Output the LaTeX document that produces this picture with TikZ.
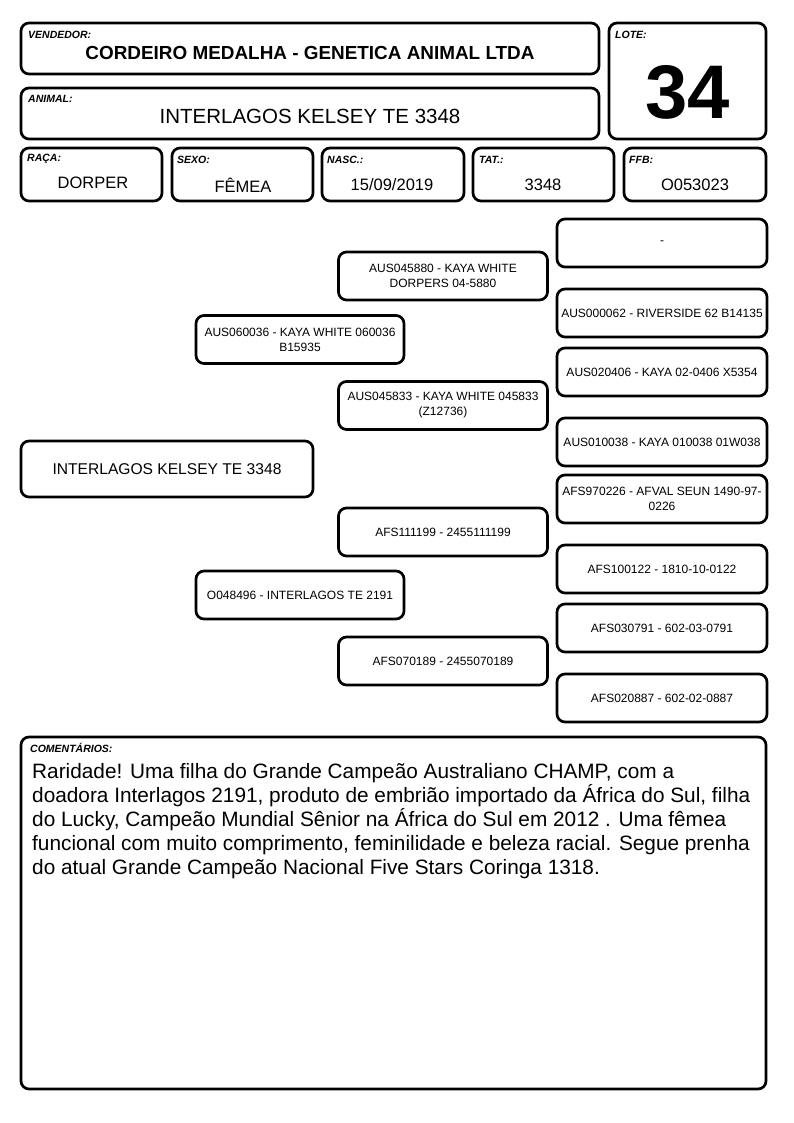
\documentclass[tikz,border=0pt]{standalone}
\usepackage{fontspec}
\setmainfont{Liberation Sans}
\begin{document}
\begin{tikzpicture}[x=1pt,y=-1pt,
  bx/.style={draw=black, line width=2.7pt, rounded corners=8pt, fill=white, inner sep=0pt},
  lbl/.style={anchor=west, inner sep=0pt, font=\fontsize{10.5}{12}\selectfont\bfseries\itshape},
  fval/.style={inner sep=0pt, font=\fontsize{16.5}{19}\selectfont},
  ped/.style={bx, align=center, font=\fontsize{12}{15}\selectfont},
  g3/.style={ped, minimum width=210, minimum height=48},
  g2/.style={ped, minimum width=209, minimum height=48},
  g1/.style={ped, minimum width=208, minimum height=48}]
\useasboundingbox[fill=white] (0,0) rectangle (794,1123);
% header
\node[bx, minimum width=578, minimum height=51] (vend) at (310,48.5) {};
\node[lbl] (vendl) at (28,35) {VENDEDOR:};
\node[inner sep=0pt, font=\fontsize{18.9}{22}\selectfont\bfseries] (vendv) at (310,53) {CORDEIRO MEDALHA - GENETICA ANIMAL LTDA};
\node[bx, minimum width=157, minimum height=116] (lote) at (687.5,81) {};
\node[lbl] (lotel) at (615,35) {LOTE:};
\node[inner sep=0pt, font=\fontsize{76}{80}\selectfont\bfseries] (lotev) at (687.5,92) {34};
\node[bx, minimum width=578, minimum height=51] (anim) at (310,113.5) {};
\node[lbl] (animl) at (28,99) {ANIMAL:};
\node[inner sep=0pt, font=\fontsize{20.5}{24}\selectfont] (animv) at (310,116) {INTERLAGOS KELSEY TE 3348};
% fields
\node[bx, minimum width=141, minimum height=53] (raca) at (91.5,174.5) {};
\node[lbl] (racal) at (27,159) {RAÇA:};
\node[fval] (racav) at (93,183) {DORPER};
\node[bx, minimum width=141, minimum height=53] (sexo) at (242.5,174.5) {};
\node[lbl] (sexol) at (177,160) {SEXO:};
\node[fval] (sexov) at (243,185) {FÊMEA};
\node[bx, minimum width=142, minimum height=53] (nasc) at (393,174.5) {};
\node[lbl] (nascl) at (327,160) {NASC.:};
\node[fval] (nascv) at (392,185) {15/09/2019};
\node[bx, minimum width=141, minimum height=53] (tat) at (543.5,174.5) {};
\node[lbl] (tatl) at (479,160) {TAT.:};
\node[fval] (tatv) at (543,185) {3348};
\node[bx, minimum width=142, minimum height=53] (ffb) at (695,174.5) {};
\node[lbl] (ffbl) at (629,160) {FFB:};
\node[fval] (ffbv) at (695,185) {O053023};
% pedigree
\node[ped, minimum width=292, minimum height=56, font=\fontsize{15.6}{18}\selectfont] (an) at (167,469) {INTERLAGOS KELSEY TE 3348};
\node[g1] (s) at (300,339.5) {AUS060036 - KAYA WHITE 060036\\B15935};
\node[g1] (d) at (300,595) {O048496 - INTERLAGOS TE 2191};
\node[g2] (ss) at (443,276) {AUS045880 - KAYA WHITE\\DORPERS 04-5880};
\node[g2] (sd) at (443,405.5) {AUS045833 - KAYA WHITE 045833\\(Z12736)};
\node[g2] (ds) at (443,532) {AFS111199 - 2455111199};
\node[g2] (dd) at (443,661) {AFS070189 - 2455070189};
\node[g3] (sss) at (662,243) {-};
\node[g3] (ssd) at (662,313) {AUS000062 - RIVERSIDE 62 B14135};
\node[g3] (sds) at (662,372) {AUS020406 - KAYA 02-0406 X5354};
\node[g3] (sdd) at (662,442) {AUS010038 - KAYA 010038 01W038};
\node[g3] (dss) at (662,499) {AFS970226 - AFVAL SEUN 1490-97-\\0226};
\node[g3] (dsd) at (662,569) {AFS100122 - 1810-10-0122};
\node[g3] (dds) at (662,628) {AFS030791 - 602-03-0791};
\node[g3] (ddd) at (662,698) {AFS020887 - 602-02-0887};
% comments
\node[bx, minimum width=745, minimum height=352] (com) at (393.5,913) {};
\node[lbl] (coml) at (30,748) {COMENTÁRIOS:};
\node[anchor=north west, inner sep=0pt, align=left, font=\fontsize{20.8}{24}\selectfont] (comv) at (32,763) {Raridade! Uma filha do Grande Campeão Australiano CHAMP, com a\\doadora Interlagos 2191, produto de embrião importado da África do Sul, filha\\do Lucky, Campeão Mundial Sênior na África do Sul em 2012 . Uma fêmea\\funcional com muito comprimento, feminilidade e beleza racial. Segue prenha\\do atual Grande Campeão Nacional Five Stars Coringa 1318.};
\end{tikzpicture}
\end{document}
